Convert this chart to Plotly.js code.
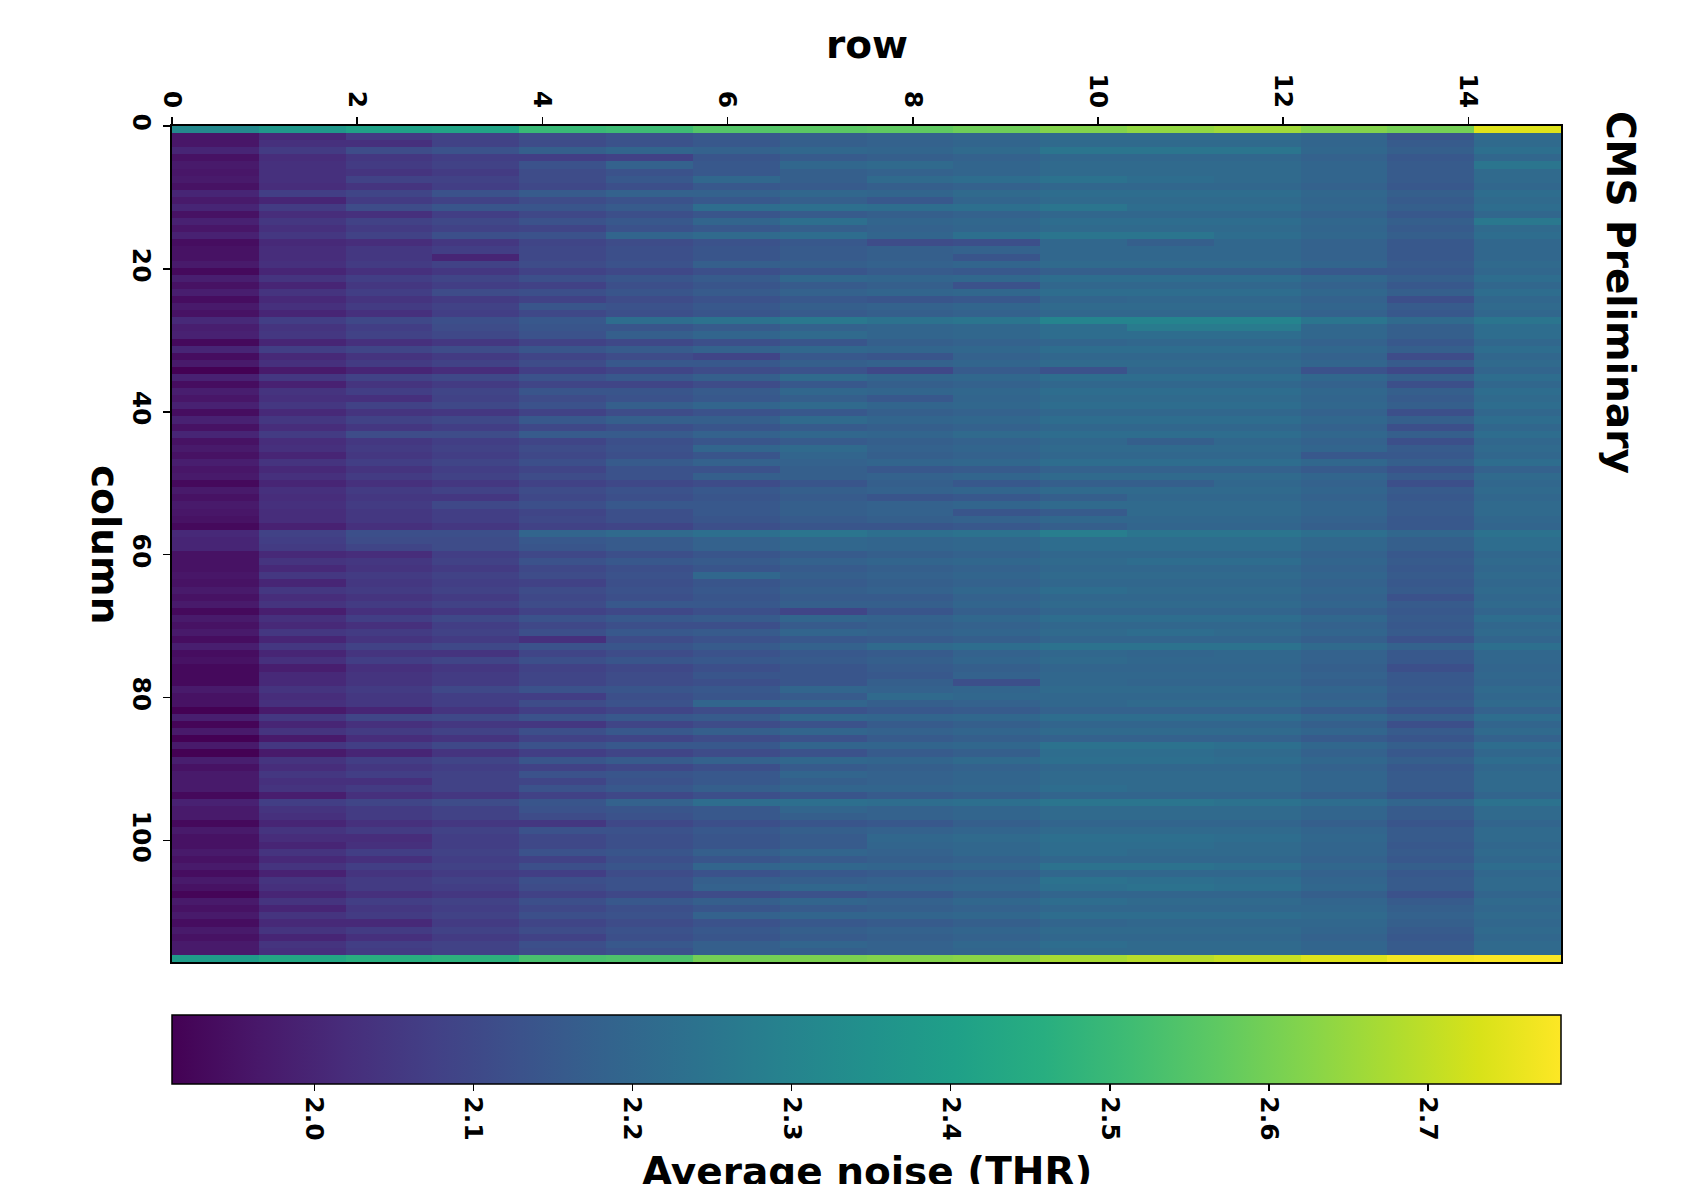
<!DOCTYPE html>
<html><head><meta charset="utf-8">
<script src="https://cdn.plot.ly/plotly-3.0.1.min.js"></script>
<style>html,body{margin:0;padding:0;background:#fff}#chart{width:1688px;height:1184px}</style>
</head><body><div id="chart"></div>
<script>
// Average noise (THR) per pixel; one array per chip "row" (x), 118 "column" values each (y = 0..117)
const r00 = [2.32,
1.96,1.96,2.00,1.95,1.97,1.96,1.97,1.95,2.00,1.97,
2.00,1.95,1.99,1.96,1.99,1.94,1.95,1.95,1.97,1.93,
1.98,1.95,1.98,1.94,1.97,1.95,2.01,1.98,1.99,1.93,
2.00,1.94,1.97,1.91,1.99,1.94,1.98,1.96,1.99,1.94,
1.99,1.95,2.00,1.95,1.97,1.95,1.98,1.96,1.97,1.93,
1.97,1.95,1.97,1.96,1.95,1.93,2.01,2.00,2.00,1.95,
1.95,1.95,1.96,1.95,1.97,1.95,1.97,1.93,1.97,1.95,
1.97,1.94,1.98,1.94,1.95,1.93,1.93,1.93,1.97,1.95,
1.95,1.91,1.98,1.92,1.97,1.91,1.97,1.91,1.98,1.95,
1.97,1.97,1.97,1.93,1.99,1.97,1.97,1.93,1.97,1.95,
1.95,1.97,1.95,1.97,1.94,1.97,1.95,1.92,1.97,1.95,
1.97,1.94,1.97,1.95,1.97,1.97, 2.39];
const r01 = [2.37,
2.01,2.03,2.06,2.02,2.03,2.03,2.03,2.02,2.07,2.00,
2.06,2.02,2.05,2.03,2.05,2.01,2.02,2.02,2.03,2.00,
2.04,2.00,2.04,2.01,2.03,2.00,2.07,2.04,2.05,2.00,
2.07,2.01,2.03,1.97,2.05,1.99,2.04,2.03,2.05,2.01,
2.05,2.02,2.06,2.02,2.03,2.00,2.04,2.01,2.03,2.00,
2.03,2.02,2.03,2.02,2.02,1.99,2.08,2.07,2.06,2.01,
2.04,2.01,2.05,2.00,2.05,2.02,2.04,1.98,2.03,2.01,
2.05,2.00,2.05,2.00,2.03,1.98,2.01,2.01,2.04,2.02,
2.03,1.97,2.05,2.00,2.04,1.97,2.05,1.97,2.04,2.02,
2.05,2.03,2.04,1.98,2.07,2.04,2.03,2.00,2.04,2.02,
2.00,2.04,2.01,2.04,1.99,2.04,2.03,2.00,2.04,2.00,
2.04,2.01,2.04,2.00,2.04,2.03, 2.43];
const r02 = [2.41,
2.06,2.03,2.11,2.05,2.06,2.04,2.08,2.04,2.09,2.06,
2.11,2.03,2.08,2.06,2.08,2.02,2.05,2.05,2.06,2.03,
2.07,2.05,2.07,2.04,2.06,2.03,2.10,2.07,2.08,2.03,
2.09,2.04,2.06,2.00,2.08,2.04,2.07,2.03,2.08,2.04,
2.08,2.05,2.11,2.05,2.06,2.05,2.07,2.04,2.06,2.03,
2.06,2.05,2.06,2.05,2.05,2.03,2.12,2.11,2.09,2.02,
2.05,2.04,2.06,2.05,2.06,2.04,2.06,2.03,2.07,2.03,
2.06,2.04,2.08,2.04,2.07,2.03,2.04,2.04,2.06,2.05,
2.05,2.00,2.09,2.03,2.06,2.02,2.07,2.00,2.07,2.05,
2.07,2.03,2.06,2.03,2.09,2.06,2.06,2.03,2.06,2.02,
2.03,2.07,2.03,2.07,2.04,2.06,2.06,2.03,2.07,2.05,
2.06,2.01,2.06,2.03,2.07,2.06, 2.46];
const r03 = [2.42,
2.08,2.08,2.13,2.07,2.08,2.06,2.08,2.07,2.13,2.08,
2.14,2.07,2.10,2.08,2.12,2.05,2.07,2.00,2.08,2.05,
2.09,2.07,2.11,2.06,2.08,2.07,2.12,2.11,2.10,2.05,
2.11,2.06,2.08,2.02,2.10,2.06,2.09,2.08,2.10,2.05,
2.10,2.07,2.11,2.07,2.08,2.07,2.09,2.07,2.08,2.05,
2.08,2.05,2.10,2.07,2.07,2.05,2.12,2.11,2.11,2.07,
2.08,2.06,2.08,2.07,2.08,2.06,2.08,2.05,2.10,2.07,
2.08,2.06,2.10,2.04,2.09,2.05,2.06,2.06,2.10,2.07,
2.07,2.04,2.10,2.05,2.08,2.04,2.10,2.04,2.09,2.07,
2.08,2.08,2.08,2.05,2.11,2.08,2.08,2.05,2.08,2.07,
2.07,2.08,2.07,2.08,2.06,2.08,2.07,2.05,2.08,2.07,
2.08,2.06,2.08,2.06,2.08,2.08, 2.47];
const r04 = [2.50,
2.11,2.11,2.17,2.07,2.13,2.11,2.11,2.10,2.16,2.11,
2.14,2.10,2.13,2.09,2.13,2.09,2.10,2.10,2.11,2.08,
2.12,2.08,2.12,2.08,2.14,2.10,2.15,2.14,2.13,2.08,
2.14,2.09,2.11,2.07,2.13,2.09,2.14,2.11,2.13,2.08,
2.15,2.10,2.16,2.09,2.11,2.10,2.12,2.09,2.11,2.08,
2.11,2.10,2.12,2.09,2.10,2.08,2.19,2.15,2.14,2.10,
2.13,2.10,2.11,2.08,2.11,2.10,2.11,2.08,2.13,2.10,
2.12,2.03,2.13,2.09,2.12,2.08,2.09,2.09,2.13,2.07,
2.11,2.07,2.13,2.05,2.12,2.08,2.13,2.07,2.14,2.08,
2.13,2.09,2.13,2.08,2.14,2.13,2.11,2.05,2.13,2.10,
2.10,2.13,2.08,2.12,2.07,2.12,2.11,2.08,2.12,2.10,
2.12,2.09,2.11,2.08,2.12,2.11, 2.53];
const r05 = [2.51,
2.13,2.13,2.19,2.08,2.18,2.13,2.15,2.12,2.18,2.13,
2.16,2.12,2.15,2.13,2.19,2.11,2.12,2.12,2.13,2.10,
2.14,2.12,2.14,2.11,2.13,2.12,2.22,2.14,2.17,2.10,
2.16,2.11,2.15,2.09,2.15,2.09,2.14,2.13,2.17,2.11,
2.17,2.12,2.16,2.12,2.13,2.12,2.16,2.13,2.13,2.10,
2.13,2.12,2.15,2.12,2.12,2.09,2.21,2.16,2.16,2.12,
2.15,2.12,2.13,2.12,2.13,2.12,2.15,2.10,2.15,2.12,
2.15,2.11,2.14,2.11,2.14,2.10,2.11,2.11,2.14,2.12,
2.13,2.09,2.15,2.09,2.15,2.09,2.15,2.09,2.16,2.10,
2.14,2.13,2.15,2.10,2.18,2.14,2.13,2.10,2.13,2.12,
2.12,2.14,2.12,2.14,2.11,2.13,2.13,2.10,2.15,2.12,
2.13,2.11,2.13,2.12,2.15,2.13, 2.54];
const r06 = [2.55,
2.15,2.15,2.18,2.14,2.15,2.15,2.20,2.15,2.18,2.15,
2.22,2.14,2.19,2.15,2.21,2.13,2.14,2.14,2.17,2.12,
2.16,2.14,2.16,2.13,2.15,2.14,2.24,2.16,2.19,2.12,
2.18,2.09,2.15,2.11,2.17,2.11,2.16,2.15,2.19,2.13,
2.17,2.14,2.18,2.14,2.19,2.14,2.18,2.13,2.17,2.11,
2.15,2.14,2.15,2.15,2.14,2.12,2.23,2.18,2.18,2.14,
2.16,2.14,2.20,2.14,2.15,2.14,2.15,2.12,2.16,2.12,
2.16,2.13,2.16,2.13,2.15,2.12,2.14,2.12,2.15,2.14,
2.19,2.11,2.16,2.11,2.17,2.11,2.15,2.11,2.18,2.12,
2.15,2.15,2.17,2.12,2.22,2.15,2.15,2.12,2.15,2.14,
2.14,2.17,2.14,2.19,2.13,2.17,2.18,2.11,2.17,2.14,
2.18,2.13,2.15,2.14,2.17,2.17, 2.60];
const r07 = [2.56,
2.17,2.17,2.20,2.16,2.20,2.17,2.17,2.16,2.20,2.17,
2.23,2.16,2.23,2.17,2.22,2.15,2.16,2.16,2.17,2.14,
2.20,2.16,2.18,2.15,2.17,2.16,2.26,2.18,2.21,2.14,
2.20,2.15,2.17,2.13,2.21,2.15,2.20,2.17,2.21,2.15,
2.21,2.16,2.20,2.16,2.21,2.19,2.18,2.17,2.17,2.14,
2.17,2.16,2.17,2.17,2.16,2.14,2.25,2.20,2.20,2.16,
2.18,2.16,2.17,2.16,2.17,2.16,2.17,2.09,2.19,2.16,
2.19,2.15,2.18,2.15,2.16,2.14,2.14,2.14,2.19,2.16,
2.19,2.13,2.20,2.13,2.19,2.13,2.19,2.13,2.20,2.16,
2.19,2.17,2.19,2.14,2.23,2.19,2.17,2.14,2.17,2.16,
2.16,2.19,2.16,2.20,2.15,2.17,2.20,2.13,2.19,2.16,
2.19,2.15,2.17,2.16,2.19,2.17, 2.61];
const r08 = [2.57,
2.18,2.18,2.19,2.17,2.21,2.18,2.21,2.17,2.19,2.15,
2.22,2.17,2.19,2.18,2.19,2.11,2.17,2.17,2.18,2.16,
2.19,2.17,2.19,2.14,2.18,2.17,2.24,2.19,2.19,2.17,
2.19,2.14,2.18,2.10,2.19,2.17,2.19,2.15,2.19,2.17,
2.19,2.17,2.19,2.17,2.18,2.17,2.19,2.15,2.18,2.17,
2.18,2.14,2.18,2.18,2.17,2.14,2.23,2.19,2.19,2.17,
2.19,2.17,2.18,2.17,2.18,2.16,2.17,2.14,2.18,2.17,
2.18,2.16,2.21,2.16,2.17,2.16,2.15,2.17,2.18,2.21,
2.17,2.15,2.19,2.16,2.18,2.16,2.19,2.16,2.19,2.17,
2.18,2.18,2.19,2.16,2.22,2.18,2.18,2.15,2.18,2.20,
2.19,2.18,2.17,2.19,2.16,2.18,2.19,2.15,2.18,2.17,
2.19,2.16,2.18,2.17,2.18,2.18, 2.62];
const r09 = [2.59,
2.19,2.19,2.21,2.18,2.19,2.19,2.22,2.18,2.21,2.19,
2.23,2.18,2.20,2.19,2.23,2.12,2.18,2.14,2.19,2.15,
2.20,2.13,2.20,2.15,2.19,2.18,2.25,2.20,2.20,2.18,
2.20,2.18,2.19,2.16,2.20,2.18,2.20,2.19,2.20,2.18,
2.20,2.18,2.21,2.18,2.19,2.18,2.20,2.16,2.19,2.15,
2.19,2.15,2.19,2.14,2.18,2.15,2.24,2.20,2.20,2.18,
2.20,2.18,2.19,2.18,2.20,2.18,2.19,2.17,2.20,2.18,
2.19,2.17,2.22,2.18,2.19,2.17,2.18,2.12,2.19,2.20,
2.18,2.16,2.20,2.17,2.19,2.17,2.20,2.17,2.21,2.18,
2.19,2.19,2.20,2.17,2.23,2.19,2.19,2.17,2.19,2.21,
2.20,2.20,2.18,2.20,2.17,2.19,2.20,2.17,2.20,2.18,
2.20,2.17,2.19,2.18,2.20,2.19, 2.63];
const r10 = [2.62,
2.21,2.21,2.25,2.20,2.21,2.21,2.24,2.20,2.22,2.21,
2.25,2.20,2.22,2.21,2.25,2.20,2.20,2.20,2.21,2.17,
2.22,2.20,2.22,2.19,2.21,2.20,2.30,2.22,2.22,2.19,
2.22,2.20,2.21,2.13,2.22,2.20,2.22,2.21,2.22,2.20,
2.22,2.20,2.22,2.20,2.21,2.20,2.22,2.18,2.21,2.17,
2.21,2.17,2.21,2.16,2.20,2.17,2.28,2.22,2.22,2.20,
2.21,2.20,2.21,2.20,2.22,2.20,2.21,2.19,2.22,2.20,
2.21,2.19,2.24,2.20,2.21,2.19,2.20,2.20,2.21,2.20,
2.20,2.18,2.22,2.19,2.21,2.18,2.24,2.22,2.23,2.20,
2.21,2.21,2.22,2.19,2.25,2.21,2.21,2.19,2.21,2.23,
2.22,2.22,2.20,2.24,2.20,2.24,2.23,2.19,2.22,2.20,
2.22,2.19,2.21,2.20,2.22,2.21, 2.67];
const r11 = [2.64,
2.21,2.21,2.25,2.20,2.21,2.21,2.22,2.20,2.22,2.21,
2.22,2.20,2.22,2.21,2.25,2.17,2.20,2.20,2.21,2.17,
2.22,2.20,2.22,2.20,2.21,2.20,2.30,2.27,2.22,2.20,
2.22,2.20,2.21,2.19,2.22,2.20,2.22,2.21,2.22,2.20,
2.22,2.20,2.22,2.17,2.21,2.20,2.22,2.18,2.21,2.17,
2.21,2.20,2.21,2.21,2.20,2.19,2.25,2.22,2.22,2.20,
2.22,2.20,2.21,2.20,2.21,2.20,2.21,2.19,2.22,2.20,
2.22,2.19,2.24,2.19,2.20,2.19,2.20,2.19,2.21,2.20,
2.21,2.18,2.22,2.19,2.21,2.18,2.24,2.22,2.23,2.20,
2.21,2.21,2.21,2.19,2.25,2.21,2.21,2.19,2.21,2.23,
2.22,2.21,2.20,2.24,2.20,2.23,2.24,2.19,2.21,2.20,
2.22,2.20,2.21,2.20,2.21,2.21, 2.69];
const r12 = [2.66,
2.21,2.21,2.25,2.20,2.21,2.21,2.21,2.20,2.22,2.21,
2.22,2.20,2.22,2.21,2.22,2.20,2.20,2.20,2.21,2.17,
2.22,2.20,2.22,2.20,2.21,2.20,2.30,2.27,2.22,2.20,
2.22,2.20,2.21,2.19,2.22,2.20,2.22,2.21,2.22,2.20,
2.22,2.20,2.22,2.20,2.21,2.20,2.22,2.18,2.21,2.20,
2.21,2.20,2.21,2.21,2.20,2.19,2.25,2.22,2.22,2.20,
2.22,2.20,2.21,2.20,2.21,2.20,2.21,2.19,2.22,2.20,
2.21,2.19,2.24,2.20,2.20,2.19,2.20,2.19,2.21,2.20,
2.21,2.18,2.22,2.19,2.21,2.18,2.23,2.21,2.22,2.20,
2.21,2.21,2.21,2.19,2.24,2.21,2.21,2.19,2.21,2.22,
2.21,2.21,2.20,2.23,2.20,2.22,2.23,2.19,2.21,2.20,
2.22,2.20,2.21,2.20,2.21,2.21, 2.71];
const r13 = [2.62,
2.19,2.19,2.20,2.18,2.19,2.19,2.19,2.18,2.20,2.19,
2.20,2.18,2.20,2.19,2.20,2.18,2.18,2.18,2.19,2.15,
2.20,2.18,2.20,2.18,2.19,2.18,2.25,2.20,2.20,2.18,
2.20,2.18,2.19,2.13,2.20,2.18,2.20,2.19,2.20,2.18,
2.20,2.18,2.20,2.18,2.19,2.15,2.20,2.16,2.19,2.18,
2.19,2.18,2.19,2.19,2.18,2.17,2.23,2.20,2.20,2.18,
2.19,2.18,2.19,2.18,2.19,2.18,2.19,2.17,2.20,2.18,
2.19,2.17,2.21,2.18,2.18,2.17,2.18,2.17,2.19,2.18,
2.19,2.16,2.20,2.17,2.19,2.16,2.20,2.18,2.20,2.18,
2.19,2.19,2.19,2.17,2.22,2.19,2.19,2.17,2.19,2.20,
2.19,2.19,2.18,2.20,2.18,2.19,2.20,2.17,2.19,2.20,
2.21,2.20,2.19,2.18,2.19,2.19, 2.74];
const r14 = [2.60,
2.14,2.16,2.17,2.15,2.16,2.16,2.16,2.15,2.17,2.16,
2.17,2.15,2.17,2.16,2.17,2.15,2.15,2.15,2.16,2.15,
2.17,2.15,2.17,2.12,2.16,2.15,2.21,2.17,2.17,2.15,
2.17,2.11,2.16,2.10,2.17,2.12,2.17,2.16,2.17,2.12,
2.17,2.12,2.17,2.12,2.16,2.15,2.17,2.13,2.16,2.12,
2.16,2.15,2.16,2.16,2.15,2.15,2.20,2.17,2.17,2.15,
2.16,2.15,2.16,2.15,2.16,2.13,2.16,2.15,2.16,2.15,
2.16,2.13,2.18,2.15,2.15,2.12,2.15,2.15,2.16,2.15,
2.16,2.13,2.17,2.12,2.16,2.14,2.17,2.15,2.17,2.15,
2.16,2.16,2.16,2.14,2.19,2.16,2.16,2.14,2.16,2.16,
2.15,2.16,2.15,2.17,2.15,2.16,2.16,2.13,2.16,2.17,
2.18,2.17,2.16,2.15,2.16,2.16, 2.77];
const r15 = [2.74,
2.21,2.21,2.23,2.20,2.25,2.21,2.21,2.20,2.22,2.21,
2.22,2.20,2.26,2.21,2.22,2.20,2.20,2.20,2.21,2.20,
2.22,2.20,2.22,2.20,2.21,2.20,2.25,2.22,2.22,2.20,
2.22,2.20,2.21,2.19,2.22,2.20,2.22,2.21,2.22,2.20,
2.22,2.20,2.22,2.20,2.21,2.20,2.22,2.18,2.21,2.20,
2.21,2.20,2.21,2.21,2.20,2.19,2.24,2.22,2.22,2.20,
2.21,2.20,2.21,2.20,2.21,2.20,2.21,2.19,2.22,2.20,
2.21,2.19,2.23,2.20,2.20,2.19,2.20,2.19,2.21,2.20,
2.21,2.18,2.22,2.19,2.21,2.18,2.22,2.20,2.22,2.20,
2.21,2.21,2.21,2.19,2.24,2.21,2.21,2.19,2.21,2.21,
2.20,2.21,2.20,2.22,2.20,2.21,2.21,2.19,2.21,2.20,
2.21,2.20,2.21,2.20,2.21,2.21, 2.78];

const rowTicks = [0, 2, 4, 6, 8, 10, 12, 14];
const columnTicks = [0, 20, 40, 60, 80, 100];
const noiseTicks = [2.0, 2.1, 2.2, 2.3, 2.4, 2.5, 2.6, 2.7];
const noiseMin = 1.9105, noiseMax = 2.7836;
const rowExtent = 15, columnExtent = 117;   // image extent of the original plot

const rowArrays = [r00,r01,r02,r03,r04,r05,r06,r07,r08,r09,r10,r11,r12,r13,r14,r15];
const nRows = rowArrays.length, nCols = r00.length;
const z = r00.map((_, k) => rowArrays.map(a => a[k]));

const F = 'DejaVu Sans';
const tickFont = {family: F, size: 25, color: '#000', weight: 'bold'};
const titleFont = {family: F, size: 39, color: '#000', weight: 'bold'};

const trace = {
  type: 'heatmap', z: z,
  x0: rowExtent / nRows / 2, dx: rowExtent / nRows,
  y0: columnExtent / nCols / 2, dy: columnExtent / nCols,
  colorscale: 'Viridis', zmin: noiseMin, zmax: noiseMax,
  hoverongaps: false,
  colorbar: {
    orientation: 'h', thicknessmode: 'pixels', thickness: 69,
    lenmode: 'pixels', len: 1389, x: 0.5, xanchor: 'center',
    y: -0.0634, yanchor: 'top', xpad: 0, ypad: 0,
    outlinewidth: 1.5, outlinecolor: '#000',
    tickvals: noiseTicks, ticktext: noiseTicks.map(v => v.toFixed(1)),
    ticks: 'outside', ticklen: 7, tickwidth: 1.5, tickcolor: '#000',
    tickangle: 90, tickfont: tickFont
  }
};

const layout = {
  width: 1688, height: 1184,
  margin: {l: 172, r: 127, t: 126, b: 222, pad: 0},
  paper_bgcolor: '#fff', plot_bgcolor: '#fff',
  font: {family: F, color: '#000'},
  xaxis: {
    side: 'top', range: [0, rowExtent], tickmode: 'array', tickvals: rowTicks,
    ticks: 'outside', ticklen: 7, tickwidth: 1.5, tickcolor: '#000', tickangle: 90,
    tickfont: tickFont, showgrid: false, zeroline: false,
    showline: true, linecolor: '#000', linewidth: 2, mirror: true
  },
  yaxis: {
    range: [columnExtent, 0], tickmode: 'array', tickvals: columnTicks,
    ticks: 'outside', ticklen: 7, tickwidth: 1.5, tickcolor: '#000', tickangle: 90,
    tickfont: tickFont, showgrid: false, zeroline: false,
    showline: true, linecolor: '#000', linewidth: 2, mirror: true
  },
  annotations: [
    {text: 'row', xref: 'paper', yref: 'paper', x: 0.5, y: (962 - 44) / 836,
     xanchor: 'center', yanchor: 'middle', showarrow: false, font: titleFont},
    {text: 'column', xref: 'paper', yref: 'paper', x: (106 - 172) / 1389, y: 0.5,
     xanchor: 'center', yanchor: 'middle', showarrow: false, textangle: 90, font: titleFont},
    {text: 'CMS Preliminary', xref: 'paper', yref: 'paper', x: (1621 - 172) / 1389, y: (962 - 292) / 836,
     xanchor: 'center', yanchor: 'middle', showarrow: false, textangle: 90, font: titleFont},
    {text: 'Average noise (THR)', xref: 'paper', yref: 'paper', x: 0.5, y: (962 - 1171) / 836,
     xanchor: 'center', yanchor: 'middle', showarrow: false, font: titleFont}
  ]
};

Plotly.newPlot('chart', [trace], layout, {staticPlot: true, displayModeBar: false});
</script>
</body></html>
